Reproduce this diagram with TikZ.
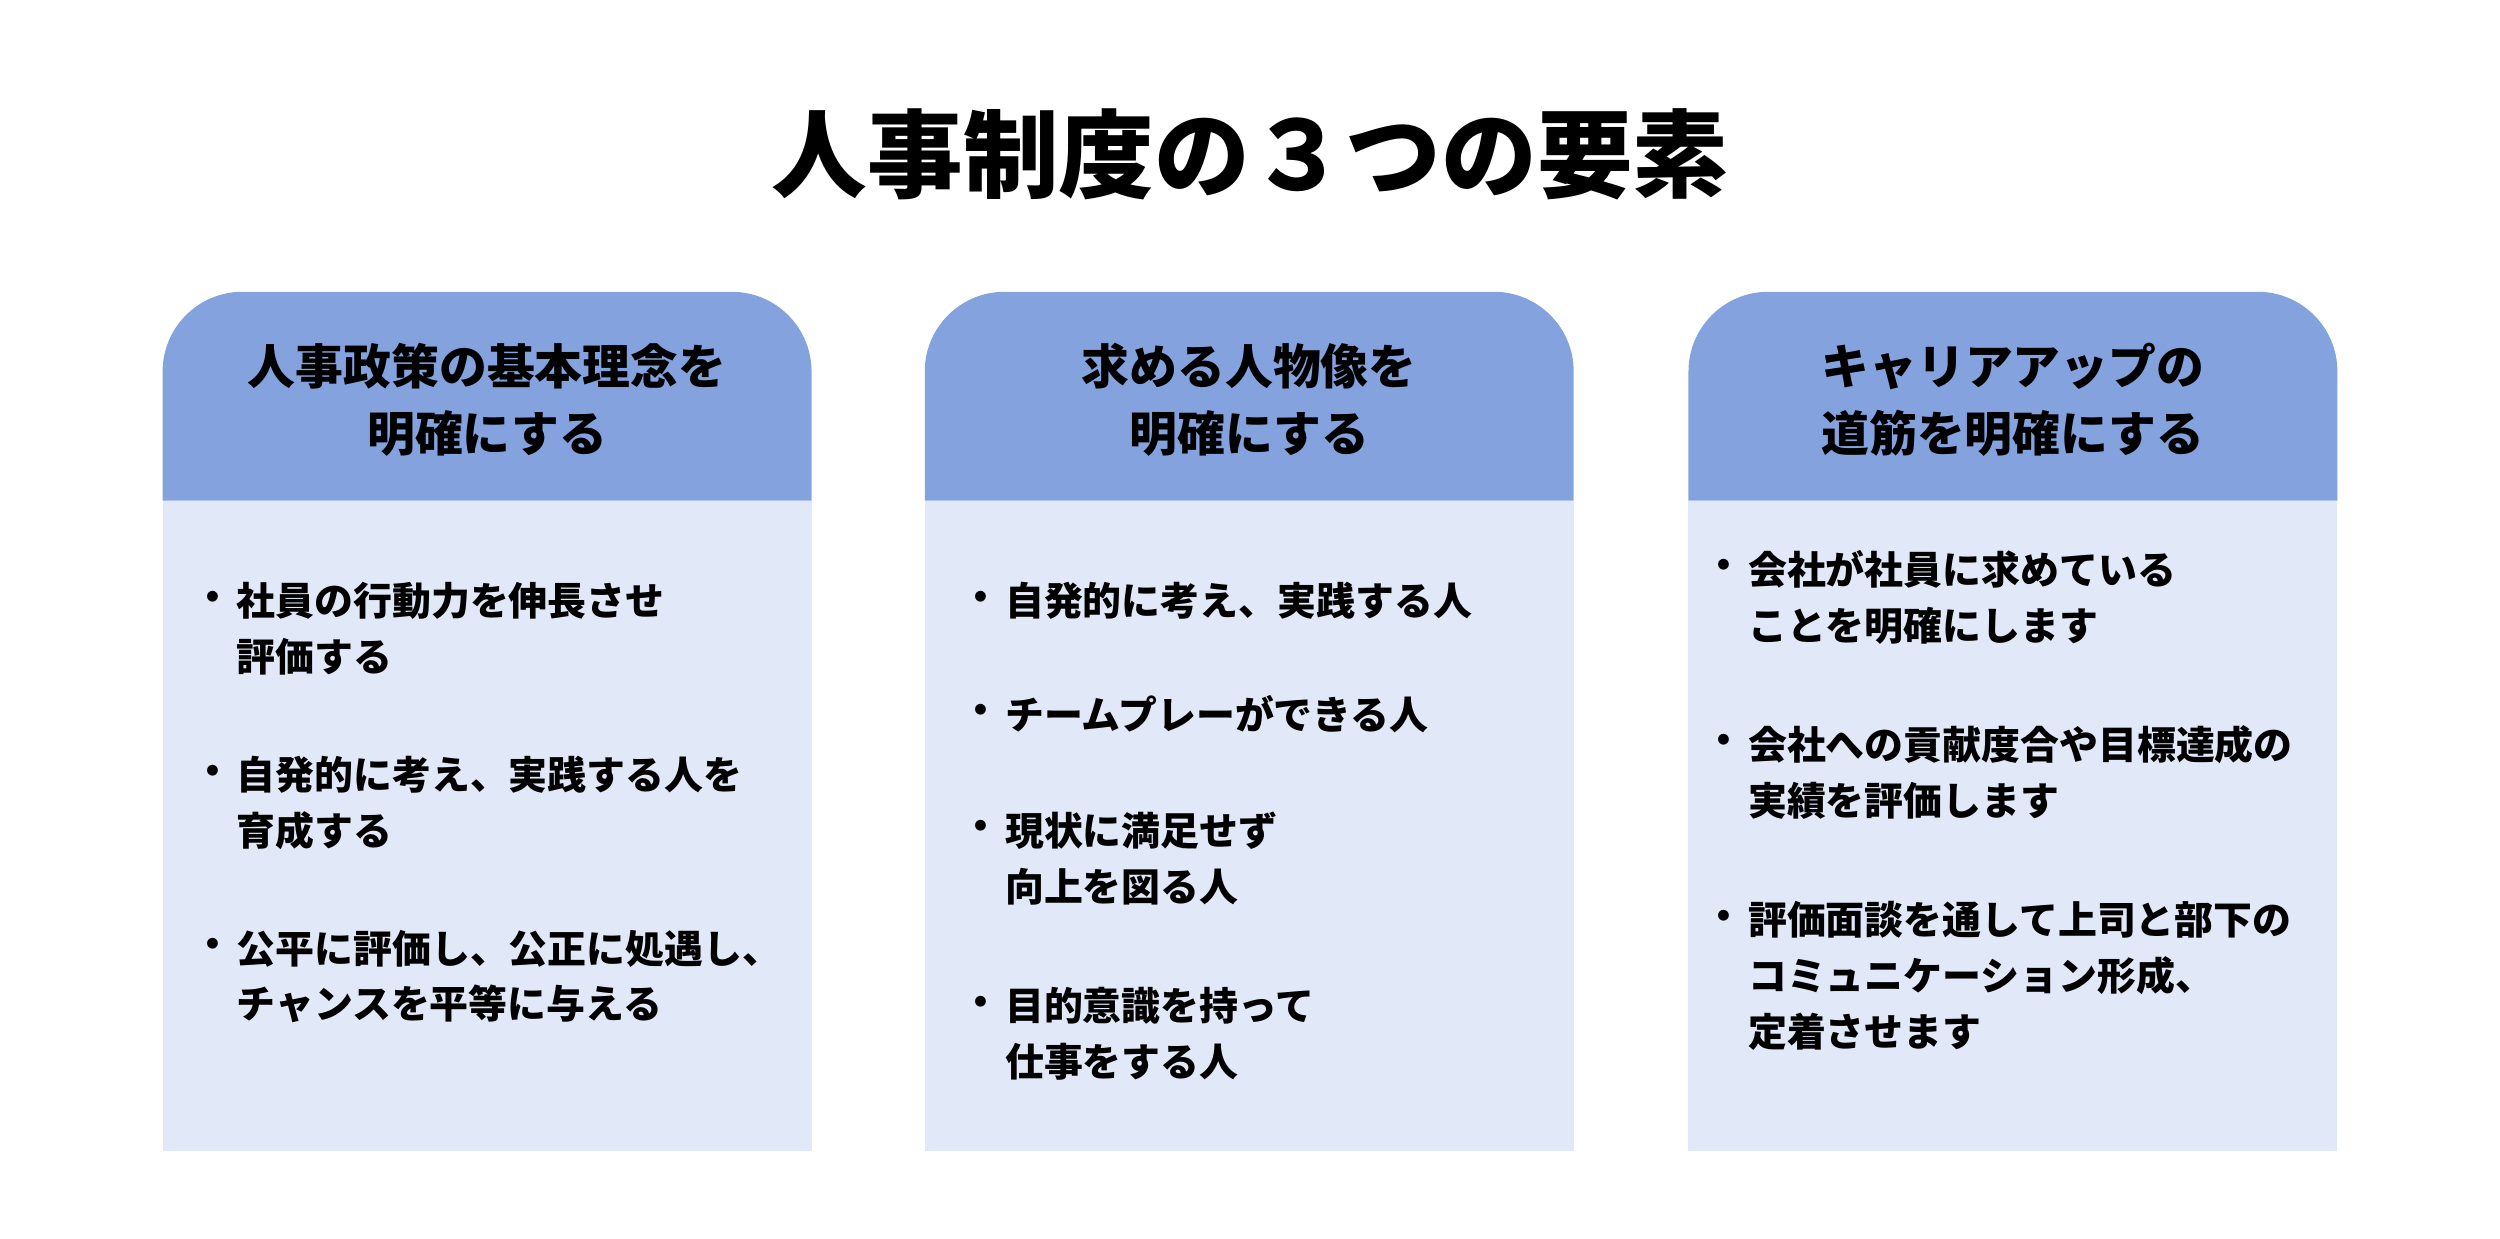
\documentclass[tikz,border=0pt]{standalone}
\usepackage{fontspec}
\setmainfont{Noto Sans CJK JP}
\begin{document}
\begin{tikzpicture}[x=0.5pt,y=-0.5pt,
  hdr/.style={fill=hdrc,draw=none},
  bdy/.style={fill=bdyc,draw=none},
  htxt/.style={font=\fontsize{15pt}{21pt}\selectfont\bfseries,align=center,text=black},
  btxt/.style={font=\fontsize{12.2pt}{17.5pt}\selectfont\bfseries,align=left,anchor=west,inner sep=0pt,text=black},
  bul/.style={font=\fontsize{12.2pt}{17.5pt}\selectfont\bfseries,anchor=east,inner sep=0pt}]
\definecolor{hdrc}{HTML}{84A3DE}
\definecolor{bdyc}{HTML}{E1E8F7}
\useasboundingbox (0,0) rectangle (1568,777);
\fill[white] (0,0) rectangle (1568,777);
\node[font=\fontsize{30pt}{36pt}\selectfont\bfseries] (title) at (784,97) {人事制度の３つの要素};
\foreach \x/\n in {102/a,580/b,1059/c}{
  \fill[hdr] (\x,314) -- (\x,233) arc[start angle=180,end angle=270,radius=50] -- (\x+357,183) arc[start angle=270,end angle=360,radius=50] -- (\x+407,314) -- cycle;
  \fill[bdy] (\x,314) rectangle (\x+407,722);
}
\node[htxt] (ha) at (305.5,251) {人事政策の基本理念を\\明確にする};
\node[htxt] (hb) at (783.5,251) {求める人物像を\\明確にする};
\node[htxt] (hc) at (1262.5,251) {キャリアアップの\\道筋を明確にする};
% column 1
\node[bul] (a1b) at (146,377) {・};
\node[btxt] (a1) at (148,394.5) {社員の行動力を伸長させ\\評価する};
\node[bul] (a2b) at (146,486) {・};
\node[btxt] (a2) at (148,503.5) {自発的に考え、実践する人を\\育成する};
\node[bul] (a3b) at (146,595) {・};
\node[btxt] (a3) at (148,612.5) {公平に評価し、公正に処遇し、\\チャンスを平等に与える};
% column 2
\node[bul] (b1b) at (628,377) {・};
\node[btxt] (b1) at (630,377) {自発的に考え、実践する人};
\node[bul] (b2b) at (628,448) {・};
\node[btxt] (b2) at (630,448) {チームプレーができる人};
\node[bul] (b3b) at (628,521) {・};
\node[btxt] (b3) at (630,538.5) {現状に満足せず\\向上を図る人};
\node[bul] (b4b) at (628,631) {・};
\node[btxt] (b4) at (630,648.5) {目的意識を持って\\仕事をする人};
% column 3
\node[bul] (c1b) at (1094,357) {・};
\node[btxt] (c1) at (1096,374.5) {会社が社員に求めている\\ことを明確にします};
\node[bul] (c2b) at (1094,467) {・};
\node[btxt] (c2) at (1096,484.5) {会社への貢献度合や目標達成の\\実績を評価します};
\node[bul] (c3b) at (1094,577) {・};
\node[btxt] (c3) at (1096,612) {評価面談を通して上司と部下の\\コミュニケーション形成、\\定着させます};
\end{tikzpicture}
\end{document}
